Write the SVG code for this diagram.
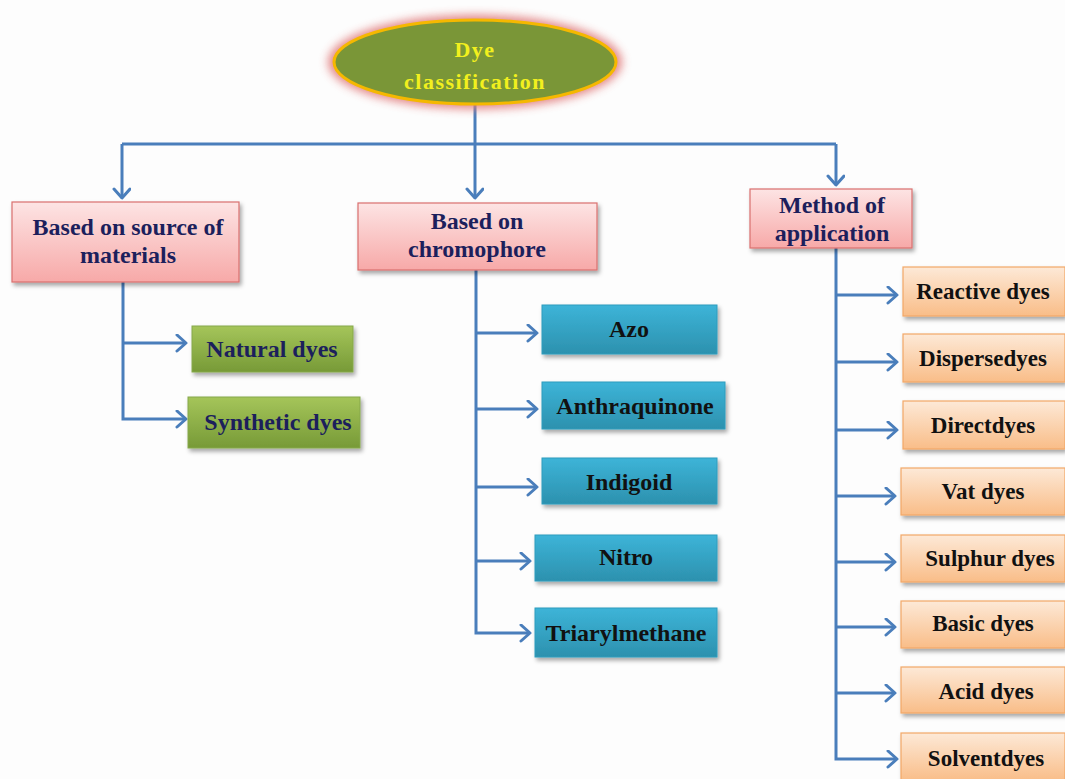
<svg xmlns="http://www.w3.org/2000/svg" width="1065" height="779" viewBox="0 0 1065 779">
  <defs>
    <linearGradient id="gPink" x1="0" y1="0" x2="0" y2="1">
      <stop offset="0" stop-color="#fde4e4"/>
      <stop offset="1" stop-color="#f7a9a8"/>
    </linearGradient>
    <linearGradient id="gGreen" x1="0" y1="0" x2="0" y2="1">
      <stop offset="0" stop-color="#a5c55a"/>
      <stop offset="1" stop-color="#779a37"/>
    </linearGradient>
    <linearGradient id="gTeal" x1="0" y1="0" x2="0" y2="1">
      <stop offset="0" stop-color="#3db4d8"/>
      <stop offset="1" stop-color="#2c91ae"/>
    </linearGradient>
    <linearGradient id="gOrange" x1="0" y1="0" x2="0" y2="1">
      <stop offset="0" stop-color="#fde9d7"/>
      <stop offset="1" stop-color="#f9bd88"/>
    </linearGradient>
    <filter id="shadow" x="-10%" y="-20%" width="130%" height="160%">
      <feDropShadow dx="2" dy="3" stdDeviation="2" flood-color="#000" flood-opacity="0.35"/>
    </filter>
    <filter id="glow" x="-20%" y="-40%" width="140%" height="180%">
      <feGaussianBlur stdDeviation="5"/>
    </filter>
    <marker id="chev" markerUnits="userSpaceOnUse" markerWidth="14" markerHeight="20" refX="11" refY="9" orient="auto">
      <path d="M2,1 L11,9 L2,17" fill="none" stroke="#4a7ebb" stroke-width="3" stroke-linecap="round" stroke-linejoin="round"/>
    </marker>
    <style>
      .conn { fill: none; stroke: #4a7ebb; stroke-width: 3; }
      .arr { marker-end: url(#chev); }
      .pink { fill: url(#gPink); stroke: #d9706e; stroke-width: 1.2; filter: url(#shadow); }
      .green { fill: url(#gGreen); stroke: #86a84a; stroke-width: 1; filter: url(#shadow); }
      .teal { fill: url(#gTeal); stroke: #2e9cbd; stroke-width: 1; filter: url(#shadow); }
      .orange { fill: url(#gOrange); stroke: #f2a767; stroke-width: 1.2; filter: url(#shadow); }
      text { font-family: "Liberation Serif", "DejaVu Serif", serif; font-weight: bold; font-size: 24px; text-anchor: middle; }
      .navy { fill: #1c1f5c; }
      .dark { fill: #111111; }
      .small { font-size: 23px; }
      .title { fill: #f2f01e; font-size: 22px; letter-spacing: 1.5px; }
    </style>
  </defs>

  <rect width="1065" height="779" fill="#fdfdfd"/>

  <!-- connectors -->
  <g id="connectors">
    <path class="conn" d="M122 144 H836"/>
    <path class="conn arr" d="M475 105 V198"/>
    <path class="conn arr" d="M122 144 V198"/>
    <path class="conn arr" d="M836 144 V185"/>

    <path class="conn arr" d="M123 282 V419 H186"/>
    <path class="conn arr" d="M123 343 H186"/>

    <path class="conn arr" d="M476 270 V633 H530"/>
    <path class="conn arr" d="M476 333 H537"/>
    <path class="conn arr" d="M476 409 H537"/>
    <path class="conn arr" d="M476 487 H537"/>
    <path class="conn arr" d="M476 561 H530"/>

    <path class="conn arr" d="M836 248 V759 H897"/>
    <path class="conn arr" d="M836 295 H897"/>
    <path class="conn arr" d="M836 362 H897"/>
    <path class="conn arr" d="M836 430 H897"/>
    <path class="conn arr" d="M836 496 H895"/>
    <path class="conn arr" d="M836 562 H895"/>
    <path class="conn arr" d="M836 627 H895"/>
    <path class="conn arr" d="M836 693 H895"/>
  </g>

  <!-- root -->
  <g id="root">
    <ellipse cx="475" cy="62" rx="147" ry="47" fill="#e07a7a" opacity="0.9" filter="url(#glow)"/>
    <ellipse cx="475" cy="62" rx="141" ry="42" fill="#7a9637" stroke="#f5b800" stroke-width="3"/>
    <text class="title" x="475" y="57">Dye</text>
    <text class="title" x="475" y="89">classification</text>
  </g>

  <!-- categories -->
  <g id="cat-source">
    <rect class="pink" x="12" y="202" width="227" height="80"/>
    <text class="navy" x="128" y="235">Based on source of</text>
    <text class="navy" x="128" y="263">materials</text>
  </g>
  <g id="cat-chromophore">
    <rect class="pink" x="358" y="203" width="239" height="67"/>
    <text class="navy" x="477" y="229">Based on</text>
    <text class="navy" x="477" y="257">chromophore</text>
  </g>
  <g id="cat-application">
    <rect class="pink" x="750" y="189" width="162" height="59"/>
    <text class="navy" x="832" y="213">Method of</text>
    <text class="navy" x="832" y="241">application</text>
  </g>

  <!-- source of materials -->
  <g id="natural">
    <rect class="green" x="192" y="326" width="161" height="46"/>
    <text class="navy" x="272" y="357">Natural dyes</text>
  </g>
  <g id="synthetic">
    <rect class="green" x="188" y="397" width="172" height="51"/>
    <text class="navy" x="278" y="430">Synthetic dyes</text>
  </g>

  <!-- chromophore -->
  <g id="azo">
    <rect class="teal" x="542" y="305" width="175" height="49"/>
    <text class="dark" x="629" y="337">Azo</text>
  </g>
  <g id="anthraquinone">
    <rect class="teal" x="542" y="382" width="183" height="47"/>
    <text class="dark" x="635" y="414">Anthraquinone</text>
  </g>
  <g id="indigoid">
    <rect class="teal" x="542" y="458" width="175" height="46"/>
    <text class="dark" x="629" y="490">Indigoid</text>
  </g>
  <g id="nitro">
    <rect class="teal" x="535" y="535" width="182" height="46"/>
    <text class="dark" x="626" y="565">Nitro</text>
  </g>
  <g id="triarylmethane">
    <rect class="teal" x="535" y="608" width="182" height="49"/>
    <text class="dark" x="626" y="641">Triarylmethane</text>
  </g>

  <!-- application -->
  <g id="reactive">
    <rect class="orange" x="903" y="267" width="162" height="49"/>
    <text class="dark small" x="983" y="299">Reactive dyes</text>
  </g>
  <g id="disperse">
    <rect class="orange" x="903" y="334" width="162" height="48"/>
    <text class="dark small" x="983" y="366">Dispersedyes</text>
  </g>
  <g id="direct">
    <rect class="orange" x="903" y="401" width="162" height="48"/>
    <text class="dark small" x="983" y="433">Directdyes</text>
  </g>
  <g id="vat">
    <rect class="orange" x="901" y="468" width="164" height="47"/>
    <text class="dark small" x="983" y="499">Vat dyes</text>
  </g>
  <g id="sulphur">
    <rect class="orange" x="901" y="535" width="164" height="47"/>
    <text class="dark small" x="990" y="566">Sulphur dyes</text>
  </g>
  <g id="basic">
    <rect class="orange" x="901" y="601" width="164" height="47"/>
    <text class="dark small" x="983" y="631">Basic dyes</text>
  </g>
  <g id="acid">
    <rect class="orange" x="901" y="667" width="164" height="46"/>
    <text class="dark small" x="986" y="699">Acid dyes</text>
  </g>
  <g id="solvent">
    <rect class="orange" x="901" y="733" width="164" height="48"/>
    <text class="dark small" x="986" y="766">Solventdyes</text>
  </g>
</svg>
